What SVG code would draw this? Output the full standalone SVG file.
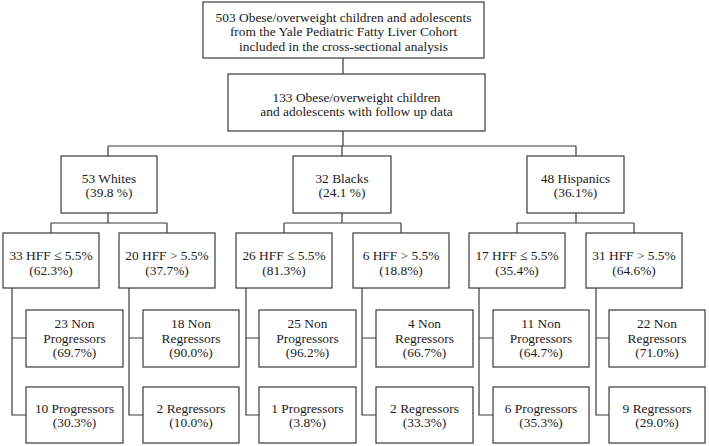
<svg xmlns="http://www.w3.org/2000/svg" width="709" height="446" viewBox="0 0 709 446">
<style>
.b{fill:#fff;stroke:#3a3a3a;stroke-width:1.2}
.c{fill:none;stroke:#3a3a3a;stroke-width:1.2}
text{font-family:"Liberation Serif","Times New Roman",serif;font-size:13.4px;fill:#1a1a1a;text-anchor:middle}
</style>
<rect width="709" height="446" fill="#fff"/>
<g id="connectors">
<path class="c" d="M343,58V74M343,131V146M108,146H576M108,146V156M342,146V156M576,146V156"/>
<path class="c" d="M108,213V223M51,223H167M51,223V233M167,223V233"/>
<path class="c" d="M342,213V223M284,223H401M284,223V233M401,223V233"/>
<path class="c" d="M576,213V223M517,223H634M517,223V233M634,223V233"/>
<path class="c" d="M12,288V415H26M12,338H26"/>
<path class="c" d="M129,288V415H143M129,338H143"/>
<path class="c" d="M246,288V415H259M246,338H259"/>
<path class="c" d="M362,288V415H376M362,338H376"/>
<path class="c" d="M479,288V415H493M479,338H493"/>
<path class="c" d="M596,288V415H609M596,338H609"/>
</g>
<g id="n-top"><rect class="b" x="203" y="2" width="281" height="56"/>
<text x="343.5" y="21.5">503 Obese/overweight children and adolescents</text>
<text x="343.5" y="36">from the Yale Pediatric Fatty Liver Cohort</text>
<text x="343.5" y="50.5">included in the cross-sectional analysis</text></g>
<g id="n-follow"><rect class="b" x="228" y="74" width="257" height="57"/>
<text x="356.5" y="101.5">133 Obese/overweight children</text>
<text x="356.5" y="115.5">and adolescents with follow up data</text></g>
<g id="n-whites"><rect class="b" x="61" y="156" width="96" height="57"/>
<text x="109" y="183">53 Whites</text><text x="109" y="197">(39.8 %)</text></g>
<g id="n-blacks"><rect class="b" x="293" y="156" width="98" height="57"/>
<text x="342" y="183">32 Blacks</text><text x="342" y="197">(24.1 %)</text></g>
<g id="n-hisp"><rect class="b" x="527" y="156" width="97" height="57"/>
<text x="575.5" y="183">48 Hispanics</text><text x="575.5" y="197">(36.1%)</text></g>
<g id="n-w1"><rect class="b" x="3" y="233" width="96" height="55"/><text x="51" y="260">33 HFF ≤ 5.5%</text><text x="51" y="274.5">(62.3%)</text></g>
<g id="n-w2"><rect class="b" x="119" y="233" width="96" height="55"/><text x="167" y="260">20 HFF &gt; 5.5%</text><text x="167" y="274.5">(37.7%)</text></g>
<g id="n-b1"><rect class="b" x="236" y="233" width="96" height="55"/><text x="284" y="260">26 HFF ≤ 5.5%</text><text x="284" y="274.5">(81.3%)</text></g>
<g id="n-b2"><rect class="b" x="353" y="233" width="96" height="55"/><text x="401" y="260">6 HFF &gt; 5.5%</text><text x="401" y="274.5">(18.8%)</text></g>
<g id="n-h1"><rect class="b" x="469" y="233" width="96" height="55"/><text x="517" y="260">17 HFF ≤ 5.5%</text><text x="517" y="274.5">(35.4%)</text></g>
<g id="n-h2"><rect class="b" x="586" y="233" width="96" height="55"/><text x="634" y="260">31 HFF &gt; 5.5%</text><text x="634" y="274.5">(64.6%)</text></g>
<g id="n-w1a"><rect class="b" x="26" y="310" width="97" height="57"/><text x="74.5" y="328">23 Non</text><text x="74.5" y="342.5">Progressors</text><text x="74.5" y="357">(69.7%)</text></g>
<g id="n-w1b"><rect class="b" x="26" y="387" width="97" height="56"/><text x="74.5" y="413">10 Progressors</text><text x="74.5" y="427">(30.3%)</text></g>
<g id="n-w2a"><rect class="b" x="143" y="310" width="96" height="57"/><text x="191" y="328">18 Non</text><text x="191" y="342.5">Regressors</text><text x="191" y="357">(90.0%)</text></g>
<g id="n-w2b"><rect class="b" x="143" y="387" width="96" height="56"/><text x="191" y="413">2 Regressors</text><text x="191" y="427">(10.0%)</text></g>
<g id="n-b1a"><rect class="b" x="259" y="310" width="97" height="57"/><text x="307.5" y="328">25 Non</text><text x="307.5" y="342.5">Progressors</text><text x="307.5" y="357">(96.2%)</text></g>
<g id="n-b1b"><rect class="b" x="259" y="387" width="97" height="56"/><text x="307.5" y="413">1 Progressors</text><text x="307.5" y="427">(3.8%)</text></g>
<g id="n-b2a"><rect class="b" x="376" y="310" width="97" height="57"/><text x="424.5" y="328">4 Non</text><text x="424.5" y="342.5">Regressors</text><text x="424.5" y="357">(66.7%)</text></g>
<g id="n-b2b"><rect class="b" x="376" y="387" width="97" height="56"/><text x="424.5" y="413">2 Regressors</text><text x="424.5" y="427">(33.3%)</text></g>
<g id="n-h1a"><rect class="b" x="493" y="310" width="96" height="57"/><text x="541" y="328">11 Non</text><text x="541" y="342.5">Progressors</text><text x="541" y="357">(64.7%)</text></g>
<g id="n-h1b"><rect class="b" x="493" y="387" width="96" height="56"/><text x="541" y="413">6 Progressors</text><text x="541" y="427">(35.3%)</text></g>
<g id="n-h2a"><rect class="b" x="609" y="310" width="96" height="57"/><text x="657" y="328">22 Non</text><text x="657" y="342.5">Regressors</text><text x="657" y="357">(71.0%)</text></g>
<g id="n-h2b"><rect class="b" x="609" y="387" width="96" height="56"/><text x="657" y="413">9 Regressors</text><text x="657" y="427">(29.0%)</text></g>
</svg>
